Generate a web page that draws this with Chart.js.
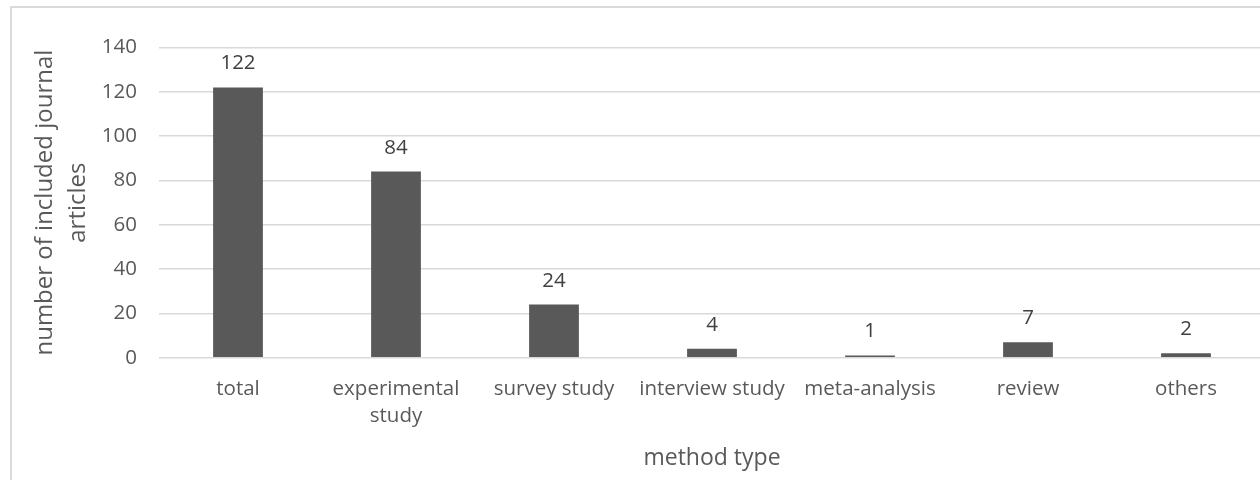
<!DOCTYPE html>
<html>
<head>
<meta charset="utf-8">
<script src="https://cdn.jsdelivr.net/npm/chart.js@4.4.1/dist/chart.umd.min.js"></script>
<style>
  html, body { margin: 0; padding: 0; background: #ffffff; overflow: hidden; }
  #wrap { position: relative; width: 1260px; height: 480px; overflow: hidden; }
  #frame { position: absolute; left: 10px; top: 6px; width: 1400px; height: 600px;
           border: 2px solid #dadada; box-sizing: border-box; }
  #box { position: absolute; left: 0; top: 0; width: 1280px; height: 480px; }
</style>
</head>
<body>
<div id="wrap">
  <div id="frame"></div>
  <div id="box"><canvas id="chart"></canvas></div>
</div>
<script>
// Method types of the included journal articles
const categories = ['total', ['experimental', 'study'], 'survey study', 'interview study', 'meta-analysis', 'review', 'others'];
const articleCounts = [122, 84, 24, 4, 1, 7, 2];
const yTicks = { min: 0, max: 140, step: 20 };

const FONT = '"Open Sans", "Noto Sans", sans-serif';
const TEXT = '#595959';

// Writes each bar's count above it
const valueLabels = {
  id: 'valueLabels',
  afterDatasetsDraw(chart) {
    const { ctx } = chart;
    const meta = chart.getDatasetMeta(0);
    ctx.save();
    ctx.font = '20.5px ' + FONT;
    ctx.fillStyle = '#404040';
    ctx.textAlign = 'center';
    ctx.textBaseline = 'alphabetic';
    meta.data.forEach((bar, i) => {
      ctx.fillText(String(chart.data.datasets[0].data[i]), bar.x, bar.y - 18);
    });
    ctx.restore();
  }
};

new Chart(document.getElementById('chart'), {
  type: 'bar',
  data: {
    labels: categories,
    datasets: [{
      data: articleCounts,
      backgroundColor: '#595959',
      borderWidth: 0,
      categoryPercentage: 1,
      barPercentage: 0.315
    }]
  },
  options: {
    responsive: true,
    maintainAspectRatio: false,
    animation: false,
    events: [],
    layout: { padding: { left: 0, right: 15, top: 47.5, bottom: 0 } },
    plugins: { legend: { display: false }, tooltip: { enabled: false } },
    scales: {
      x: {
        grid: { display: false, drawTicks: false },
        border: { display: false },
        ticks: { color: TEXT, font: { family: FONT, size: 20.5, lineHeight: 1.3 }, padding: 18.5, maxRotation: 0, autoSkip: false },
        title: { display: true, text: 'method type', color: TEXT, font: { family: FONT, size: 23, lineHeight: 1.2 }, padding: { top: 0, bottom: 7.7 } },
        afterFit(scale) { scale.height = 480 - 357.7; }
      },
      y: {
        min: yTicks.min,
        max: yTicks.max,
        grid: { color: '#d9d9d9', lineWidth: 1.5, drawTicks: false },
        border: { display: false },
        ticks: { stepSize: yTicks.step, color: TEXT, font: { family: FONT, size: 20.5 }, padding: 22 },
        title: { display: true, text: ['number of included journal', 'articles'], color: TEXT, font: { family: FONT, size: 24, lineHeight: 1.375 }, padding: { top: 28.5, bottom: 0 } },
        afterFit(scale) { scale.width = 159; }
      }
    }
  },
  plugins: [valueLabels]
});
</script>
</body>
</html>
